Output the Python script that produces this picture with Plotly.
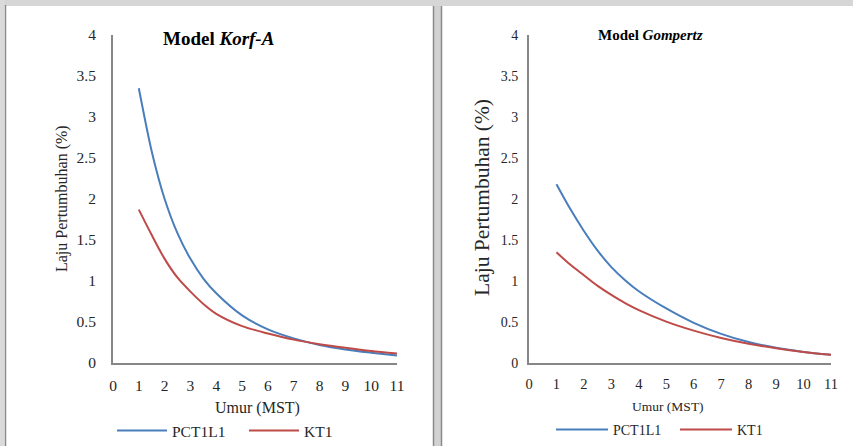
import plotly.graph_objects as go

# ---- data ----
umur = [1, 1.5, 2, 2.5, 3, 3.5, 4, 5, 6, 7, 8, 9, 10, 11]
korf_pct1l1 = [3.35, 2.58, 2.00, 1.58, 1.27, 1.03, 0.85, 0.58, 0.41, 0.30, 0.22, 0.165, 0.125, 0.09]
korf_kt1 = [1.87, 1.56, 1.27, 1.04, 0.87, 0.72, 0.60, 0.45, 0.36, 0.285, 0.23, 0.185, 0.145, 0.115]

gomp_pct1l1 = [2.18, 1.88, 1.61, 1.37, 1.17, 1.01, 0.875, 0.665, 0.49, 0.355, 0.255, 0.185, 0.135, 0.10]
gomp_kt1 = [1.35, 1.20, 1.07, 0.94, 0.83, 0.73, 0.645, 0.505, 0.395, 0.305, 0.235, 0.18, 0.135, 0.10]

x_ticks = list(range(0, 12))
y_ticks = [0, 0.5, 1, 1.5, 2, 2.5, 3, 3.5, 4]
y_tick_text = ["0", "0.5", "1", "1.5", "2", "2.5", "3", "3.5", "4"]

series_names = ["PCT1L1", "KT1"]
colors = ["#4a7ebb", "#be4b48"]

W, H = 853, 446
def px(v):
    return v / W
def py(v):
    return (H - v) / H

FONT = "Liberation Serif"
AX = "#868686"
TXT = "#262626"

fig = go.Figure()

for vals, name, col in zip([korf_pct1l1, korf_kt1], series_names, colors):
    fig.add_trace(go.Scatter(x=umur, y=vals, mode="lines", name=name,
                             line=dict(color=col, width=2, shape="spline", smoothing=0.8),
                             xaxis="x", yaxis="y", legend="legend"))
for vals, name, col in zip([gomp_pct1l1, gomp_kt1], series_names, colors):
    fig.add_trace(go.Scatter(x=umur, y=vals, mode="lines", name=name,
                             line=dict(color=col, width=2, shape="spline", smoothing=0.8),
                             xaxis="x2", yaxis="y2", legend="legend2"))

ydom = [py(363), py(35)]

def xaxis(domain, anchor, size):
    return dict(domain=domain, anchor=anchor, range=[0, 11], tickvals=x_ticks,
                showgrid=False, zeroline=False, showline=True, linecolor=AX, linewidth=2,
                ticks="", ticklabelstandoff=7, automargin=False,
                tickfont=dict(family=FONT, size=size, color=TXT), fixedrange=True)

def yaxis(anchor, size, standoff):
    return dict(domain=ydom, anchor=anchor, range=[0, 4], tickvals=y_ticks, ticktext=y_tick_text,
                showgrid=False, zeroline=False, showline=True, linecolor=AX, linewidth=2,
                ticks="", ticklabelstandoff=standoff, automargin=False,
                tickfont=dict(family=FONT, size=size, color=TXT), fixedrange=True)

def ann(text, x, y, size, color=TXT, angle=0):
    return dict(text=text, x=px(x), y=py(y), xref="paper", yref="paper",
                xanchor="center", yanchor="middle", textangle=angle,
                showarrow=False, font=dict(family=FONT, size=size, color=color))

annotations = [
    ann("<b>Model <i>Korf-A</i></b>", 218, 38, 19, "#000000"),
    ann("<b>Model <i>Gompertz</i></b>", 650, 35, 15, "#000000"),
    ann("Umur (MST)", 257, 408, 16),
    ann("Umur (MST)", 668, 406, 13.5),
    ann("Laju Pertumbuhan (%)", 62, 199, 16, angle=-90),
    ann("Laju Pertumbuhan (%)", 482, 198, 21.5, angle=-90),
]

shapes = [
    # scanned page remnants
    dict(type="rect", xref="paper", yref="paper", x0=0, x1=1, y0=py(6), y1=1,
         fillcolor="#d6d6d6", line=dict(width=0), layer="below"),
    dict(type="rect", xref="paper", yref="paper", x0=0, x1=px(4.5), y0=0, y1=1,
         fillcolor="#dadada", line=dict(width=0), layer="below"),
    dict(type="line", xref="paper", yref="paper", x0=px(5.5), x1=px(5.5), y0=0, y1=py(5),
         line=dict(color="#8a8a8a", width=1.5)),
    dict(type="rect", xref="paper", yref="paper", x0=px(433), x1=px(441.5), y0=0, y1=py(6),
         fillcolor="#d2d2d2", line=dict(width=0), layer="below"),
    dict(type="line", xref="paper", yref="paper", x0=px(433.5), x1=px(433.5), y0=0, y1=py(6),
         line=dict(color="#8a8a8a", width=1.5)),
    dict(type="line", xref="paper", yref="paper", x0=px(441.5), x1=px(441.5), y0=0, y1=py(6),
         line=dict(color="#8a8a8a", width=1.5)),
]

fig.update_layout(
    width=W, height=H,
    margin=dict(l=0, r=0, t=0, b=0, autoexpand=False),
    paper_bgcolor="#ffffff", plot_bgcolor="#ffffff",
    xaxis=xaxis([px(113), px(397)], "y", 15.5),
    yaxis=yaxis("x", 15.5, 12),
    xaxis2=xaxis([px(529), px(831)], "y2", 14.5),
    yaxis2=yaxis("x2", 14, 6),
    annotations=annotations,
    shapes=shapes,
    legend=dict(orientation="h", x=px(112), y=py(431), xanchor="left", yanchor="middle",
                xref="container", yref="container",
                itemwidth=50, entrywidth=67, entrywidthmode="pixels",
                font=dict(family=FONT, size=15.5, color=TXT), bgcolor="rgba(0,0,0,0)"),
    legend2=dict(orientation="h", x=px(551), y=py(430), xanchor="left", yanchor="middle",
                 xref="container", yref="container",
                 itemwidth=52, entrywidth=57, entrywidthmode="pixels",
                 font=dict(family=FONT, size=14, color=TXT), bgcolor="rgba(0,0,0,0)"),
    showlegend=True,
)

fig.write_html("out.html")
